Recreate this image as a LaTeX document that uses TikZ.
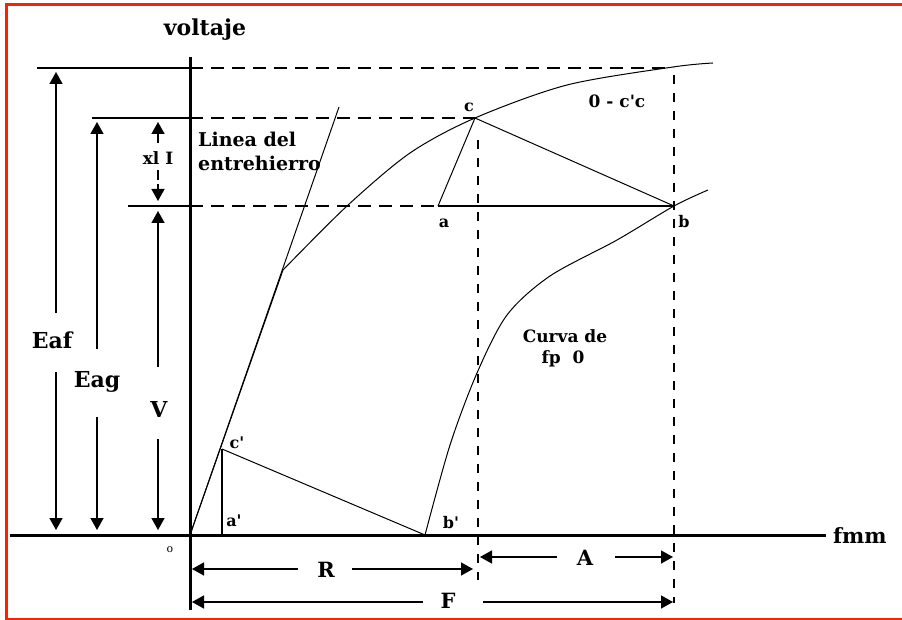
\documentclass[tikz,border=0pt]{standalone}
\usepackage{fontspec}
\setmainfont{DejaVu Serif}
\usetikzlibrary{arrows.meta}
\definecolor{framered}{RGB}{255,32,0}
\newcommand{\sq}{\textquotesingle}
\begin{document}
\begin{tikzpicture}[x=1pt,y=-1pt,
  >={Triangle[length=12pt,width=13pt]},
  axisline/.style={line width=3pt},
  refline/.style={line width=1.5pt},
  hdash/.style={line width=1.5pt, dash pattern=on 13pt off 8pt},
  vdash/.style={line width=1.5pt, dash pattern=on 9pt off 9pt},
  thin curve/.style={line width=1pt},
  dimline/.style={line width=1.5pt},
  lbl/.style={font=\bfseries\fontsize{#1}{#1}\selectfont, inner sep=0pt, anchor=base},
]
\useasboundingbox (0,0) rectangle (902,620);
% frame
\draw[framered, line width=3pt] (902,4.5) -- (6,4.5) -- (6,619);
\draw[framered, line width=2pt] (5,619) -- (902,619);

% key points
\coordinate (O) at (190,535);
\coordinate (c) at (475,118);
\coordinate (a) at (438,206);
\coordinate (b) at (674,206);
\coordinate (cp) at (222,449);
\coordinate (ap) at (222,535);
\coordinate (bp) at (425,535);
\coordinate (agtop) at (339,107);
\coordinate (knee) at (283,270);

% axes
\coordinate (yaxtop) at (190,57);
\coordinate (yaxbot) at (190,610);
\coordinate (xaxl) at (10,535);
\coordinate (xaxr) at (826,535);
\draw[axisline] (yaxtop) -- (yaxbot);
\draw[axisline] (xaxl) -- (xaxr);

% reference lines
\coordinate (h1l) at (37,68);   \coordinate (h1m) at (190,68);  \coordinate (h1r) at (673,68);
\coordinate (h2l) at (92,118);  \coordinate (h2m) at (190,118);
\coordinate (h3l) at (128,206); \coordinate (h3m) at (190,206);
\draw[refline] (h1l) -- (h1m);
\draw[hdash] (h1m) -- (h1r);
\draw[refline] (h2l) -- (h2m);
\draw[hdash] (h2m) -- (c);
\draw[refline] (h3l) -- (h3m);
\draw[hdash] (h3m) -- (a);
\draw[refline] (a) -- (b);

\coordinate (v1t) at (478,140); \coordinate (v1b) at (478,580);
\coordinate (v2t) at (674,75);  \coordinate (v2b) at (674,603);
\draw[vdash] (v1t) -- (v1b);
\draw[vdash] (v2t) -- (v2b);

% curves
\draw[thin curve] (O) -- (agtop);
\draw[thin curve] (O) -- (knee) -- plot[smooth, tension=0.5] coordinates {(283,270) (347,206) (410,153) (475,118) (567,85) (673,67) (713,63)};
\draw[thin curve] plot[smooth, tension=0.5] coordinates {(425,535) (450,445) (477,373) (507,315) (550,276) (617,240) (674,206) (708,190)};

% triangles
\draw[thin curve] (c) -- (a);
\draw[thin curve] (c) -- (b);
\draw[refline] (cp) -- (ap);
\draw[thin curve] (cp) -- (bp);

% vertical dimensions
\coordinate (eafT) at (56,68);  \coordinate (eafM1) at (56,313); \coordinate (eafM2) at (56,372); \coordinate (eafB) at (56,535);
\coordinate (eagT) at (97,118); \coordinate (eagM1) at (97,349); \coordinate (eagM2) at (97,417); \coordinate (eagB) at (97,535);
\coordinate (vT) at (158,206);  \coordinate (vM1) at (158,367);  \coordinate (vM2) at (158,439);  \coordinate (vB) at (158,535);
\coordinate (xT) at (158,118);  \coordinate (xM1) at (158,143);  \coordinate (xM2) at (158,170);  \coordinate (xB) at (158,206);
\draw[dimline,<-,shorten <=4pt] (eafT) -- (eafM1);
\draw[dimline,->,shorten >=5pt] (eafM2) -- (eafB);
\draw[dimline,<-,shorten <=4pt] (eagT) -- (eagM1);
\draw[dimline,->,shorten >=5pt] (eagM2) -- (eagB);
\draw[dimline,<-,shorten <=5pt] (vT) -- (vM1);
\draw[dimline,->,shorten >=5pt] (vM2) -- (vB);
\draw[dimline,<-,shorten <=4pt,dash pattern=on 10pt off 4pt] (xT) -- (xM1);
\draw[dimline,->,shorten >=5pt,dash pattern=on 10pt off 4pt] (xM2) -- (xB);

% horizontal dimensions
\coordinate (rL) at (190,569); \coordinate (rM1) at (298,569); \coordinate (rM2) at (352,569); \coordinate (rR) at (478,569);
\coordinate (fL) at (190,602); \coordinate (fM1) at (423,602); \coordinate (fM2) at (483,602); \coordinate (fR) at (674,602);
\coordinate (aL) at (478,557); \coordinate (aM1) at (557,557); \coordinate (aM2) at (615,557); \coordinate (aR) at (674,557);
\draw[dimline,<-,shorten <=2pt] (rL) -- (rM1);
\draw[dimline,->,shorten >=5pt] (rM2) -- (rR);
\draw[dimline,<-,shorten <=2pt] (fL) -- (fM1);
\draw[dimline,->,shorten >=1pt] (fM2) -- (fR);
\draw[dimline,<-,shorten <=2pt] (aL) -- (aM1);
\draw[dimline,->,shorten >=1pt] (aM2) -- (aR);

% labels
\node[lbl=22] (tvolt) at (205,36) {voltaje};
\node[lbl=19, anchor=base west] (tlinea) at (198,147) {Linea del};
\node[lbl=19, anchor=base west] (tentre) at (198,171) {entrehierro};
\node[lbl=17] (txl) at (158,165) {xl I};
\node[lbl=22] (teaf) at (52,348) {Eaf};
\node[lbl=22] (teag) at (97,387) {Eag};
\node[lbl=22] (tv) at (159,417) {V};
\node[font=\fontsize{11}{11}\selectfont, inner sep=0pt] (to) at (170,550) {o};
\node[lbl=16] (tcp) at (237,448) {c\sq};
\node[lbl=16] (tap) at (234,526) {a\sq};
\node[lbl=16] (tbp) at (451,528) {b\sq};
\node[lbl=21] (tR) at (326,577) {R};
\node[lbl=21] (tF) at (448,608) {F};
\node[lbl=21] (tA) at (585,565) {A};
\node[lbl=21, anchor=base west] (tfmm) at (833,543) {fmm};
\node[lbl=17] (tcurva) at (565,342) {Curva de};
\node[lbl=17] (tfp) at (563,363) {fp\ \ 0};
\node[lbl=16] (tc) at (469,112) {c};
\node[lbl=17] (tocc) at (617,108) {0 - c\sq c};
\node[lbl=16] (ta) at (444,228) {a};
\node[lbl=16] (tb) at (684,228) {b};
\end{tikzpicture}
\end{document}
